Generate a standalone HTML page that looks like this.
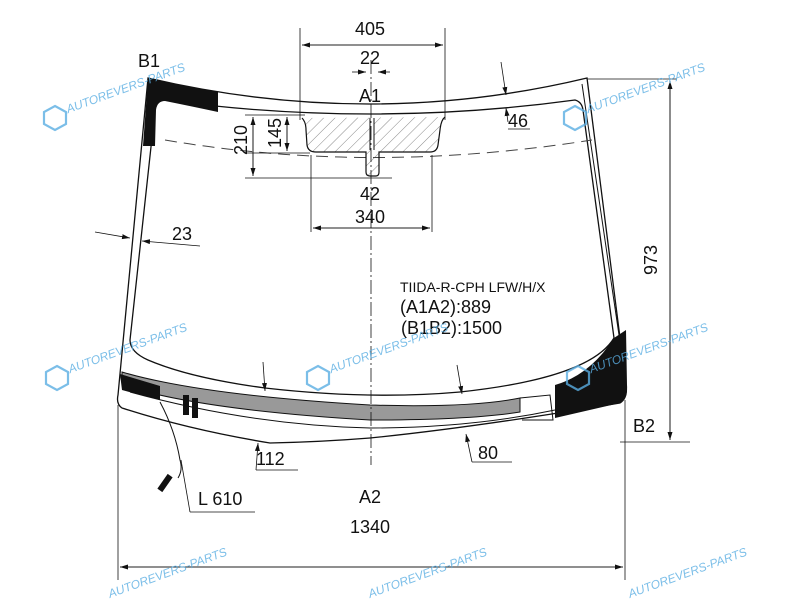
<!DOCTYPE html>
<html><head><meta charset="utf-8"><style>
html,body{margin:0;padding:0;background:#fff}
svg{display:block}
text{font-family:"Liberation Sans",sans-serif;fill:#111}
.wm{fill:#5aaee3;font-size:12px;font-style:italic}
</style></head><body>
<svg width="800" height="600" viewBox="0 0 800 600" xmlns="http://www.w3.org/2000/svg">
<defs>
<marker id="ar" markerWidth="8" markerHeight="6" refX="8" refY="3" orient="auto" markerUnits="userSpaceOnUse"><path d="M0,0.5 L8,3 L0,5.5 Z" fill="#111"/></marker>
<pattern id="hat" width="8" height="8" patternUnits="userSpaceOnUse" patternTransform="rotate(45)"><line x1="0" y1="0" x2="0" y2="8" stroke="#555" stroke-width="0.7"/></pattern>
</defs>
<g fill="none" stroke="#111" stroke-width="1.3">
<path d="M148,78 Q370,130 587,78 L626,385 Q628,398 620,403 Q470,428 370,438 Q320,442 270,443 Q190,430 122,408 Q116,404 118,395 Z" fill="#fff"/>
<path d="M165,100 Q370,128 575,100 Q582,102 583,110 L614,338 Q590,378 460,392 Q370,400 265,388 Q190,378 148,360 Q130,352 130,340 L155,110 Q157,100 165,100 Z"/>
<path d="M582,84 L619,335" stroke-width="1"/>
</g>
<path d="M148,78 Q185,86 218,92 L218,112 Q190,106 165,101 Q157,101 156,110 L155,146 L143,146 Z" fill="#111"/>
<path d="M555,385 Q590,375 614,338 L626,330 L627,385 Q628,398 620,403 L555,418 Z" fill="#111"/>
<path d="M165,140 Q370,175 592,140" fill="none" stroke="#444" stroke-width="1" stroke-dasharray="12,7"/>
<path d="M302,118 Q306,122 306,130 L307,145 Q308,152 316,152 L366,152 L366,172 Q366,176 370,176 L376,176 Q379,176 379,172 L379,152 L430,152 Q437,152 438,145 L440,130 Q441,120 445,117" fill="url(#hat)" stroke="#111" stroke-width="1.2"/>
<line x1="372" y1="118" x2="372" y2="150" stroke="#111" stroke-width="5"/>
<line x1="372" y1="118" x2="372" y2="150" stroke="#fff" stroke-width="3"/>
<path d="M122,372 Q200,395 370,405 Q470,408 520,398 L520,412 Q470,420 370,420 Q200,410 122,385 Z" fill="#999" stroke="#111" stroke-width="1"/>
<path d="M120,374 L160,386 L160,400 L122,390 Z" fill="#111"/>
<rect x="183" y="395" width="6" height="20" fill="#111"/><rect x="192" y="398" width="6" height="20" fill="#111"/>
<path d="M520,398 L550,395 L553,420 L522,420" fill="none" stroke="#111" stroke-width="1"/>
<path d="M130,392 Q250,425 370,428 Q470,428 555,410" fill="none" stroke="#111" stroke-width="1"/>
<path d="M160,402 Q175,430 180,460 Q183,470 178,478" fill="none" stroke="#111" stroke-width="1"/>
<rect x="162" y="474" width="6" height="18" fill="#111" transform="rotate(35 165 483)"/>
<g fill="none" stroke="#111" stroke-width="0.8">
<line x1="371" y1="60" x2="371" y2="465" stroke-dasharray="14,3,2,3"/>
<line x1="300" y1="28" x2="300" y2="120"/><line x1="445" y1="28" x2="445" y2="120"/>
<line x1="302" y1="45" x2="443" y2="45" marker-end="url(#ar)"/><line x1="443" y1="45" x2="302" y2="45" marker-end="url(#ar)"/>
<line x1="352" y1="72" x2="366" y2="72" marker-end="url(#ar)"/><line x1="390" y1="72" x2="378" y2="72" marker-end="url(#ar)"/>
<line x1="245" y1="178" x2="392" y2="178"/><line x1="245" y1="115" x2="305" y2="115"/><line x1="245" y1="153" x2="310" y2="153"/>
<line x1="253" y1="117" x2="253" y2="176" marker-end="url(#ar)"/><line x1="253" y1="176" x2="253" y2="117" marker-end="url(#ar)"/>
<line x1="287" y1="117" x2="287" y2="151" marker-end="url(#ar)"/><line x1="287" y1="151" x2="287" y2="117" marker-end="url(#ar)"/>
<line x1="311" y1="155" x2="311" y2="232"/><line x1="432" y1="155" x2="432" y2="232"/>
<line x1="313" y1="228" x2="430" y2="228" marker-end="url(#ar)"/><line x1="430" y1="228" x2="313" y2="228" marker-end="url(#ar)"/>
<line x1="501" y1="62" x2="506" y2="95" marker-end="url(#ar)"/><line x1="508" y1="122" x2="506" y2="108" marker-end="url(#ar)"/><line x1="508" y1="129" x2="530" y2="129"/>
<line x1="95" y1="232" x2="130" y2="238" marker-end="url(#ar)"/><line x1="200" y1="246" x2="142" y2="241" marker-end="url(#ar)"/>
<line x1="587" y1="79" x2="677" y2="79"/><line x1="620" y1="442" x2="690" y2="442"/>
<line x1="670" y1="81" x2="670" y2="440" marker-end="url(#ar)"/><line x1="670" y1="440" x2="670" y2="81" marker-end="url(#ar)"/>
<line x1="118" y1="405" x2="118" y2="580"/><line x1="625" y1="400" x2="625" y2="580"/>
<line x1="120" y1="567" x2="623" y2="567" marker-end="url(#ar)"/><line x1="623" y1="567" x2="120" y2="567" marker-end="url(#ar)"/>
<line x1="263" y1="362" x2="265" y2="391" marker-end="url(#ar)"/><line x1="457" y1="365" x2="462" y2="394" marker-end="url(#ar)"/>
<line x1="256" y1="470" x2="258" y2="443" marker-end="url(#ar)"/><line x1="256" y1="470" x2="298" y2="470"/>
<line x1="472" y1="462" x2="466" y2="434" marker-end="url(#ar)"/><line x1="472" y1="462" x2="512" y2="462"/>
<line x1="181" y1="460" x2="190" y2="512"/><line x1="190" y1="512" x2="255" y2="512"/>
</g>
<g font-size="18">
<text x="370" y="35" text-anchor="middle">405</text>
<text x="370" y="64" text-anchor="middle">22</text>
<text x="370" y="102" text-anchor="middle">A1</text>
<text x="370" y="200" text-anchor="middle">42</text>
<text x="370" y="223" text-anchor="middle">340</text>
<text x="508" y="127">46</text>
<text x="172" y="240">23</text>
<text x="138" y="67">B1</text>
<text x="633" y="432">B2</text>
<text x="256" y="465">112</text>
<text x="478" y="459">80</text>
<text x="198" y="505">L 610</text>
<text x="370" y="503" text-anchor="middle">A2</text>
<text x="370" y="533" text-anchor="middle">1340</text>
<text transform="translate(247,140) rotate(-90)" text-anchor="middle">210</text>
<text transform="translate(281,133) rotate(-90)" text-anchor="middle">145</text>
<text transform="translate(657,260) rotate(-90)" text-anchor="middle">973</text>
<text x="400" y="313">(A1A2):889</text>
<text x="401" y="334">(B1B2):1500</text>
</g>
<text x="400" y="292" font-size="14">TIIDA-R-CPH LFW/H/X</text>
<g opacity="0.8">
<g transform="translate(55,118)"><path d="M0,-12 L11,-6 L11,6 L0,12 L-11,6 L-11,-6 Z" fill="none" stroke="#5aaee3" stroke-width="2.2"/><text class="wm" x="14" y="0" transform="rotate(-20)">AUTOREVERS-PARTS</text></g>
<g transform="translate(575,118)"><path d="M0,-12 L11,-6 L11,6 L0,12 L-11,6 L-11,-6 Z" fill="none" stroke="#5aaee3" stroke-width="2.2"/><text class="wm" x="14" y="0" transform="rotate(-20)">AUTOREVERS-PARTS</text></g>
<g transform="translate(57,378)"><path d="M0,-12 L11,-6 L11,6 L0,12 L-11,6 L-11,-6 Z" fill="none" stroke="#5aaee3" stroke-width="2.2"/><text class="wm" x="14" y="0" transform="rotate(-20)">AUTOREVERS-PARTS</text></g>
<g transform="translate(318,378)"><path d="M0,-12 L11,-6 L11,6 L0,12 L-11,6 L-11,-6 Z" fill="none" stroke="#5aaee3" stroke-width="2.2"/><text class="wm" x="14" y="0" transform="rotate(-20)">AUTOREVERS-PARTS</text></g>
<g transform="translate(578,378)"><path d="M0,-12 L11,-6 L11,6 L0,12 L-11,6 L-11,-6 Z" fill="none" stroke="#5aaee3" stroke-width="2.2"/><text class="wm" x="14" y="0" transform="rotate(-20)">AUTOREVERS-PARTS</text></g>
<text class="wm" transform="translate(110,598) rotate(-20)">AUTOREVERS-PARTS</text>
<text class="wm" transform="translate(370,598) rotate(-20)">AUTOREVERS-PARTS</text>
<text class="wm" transform="translate(630,598) rotate(-20)">AUTOREVERS-PARTS</text>
</g>
</svg>
</body></html>
